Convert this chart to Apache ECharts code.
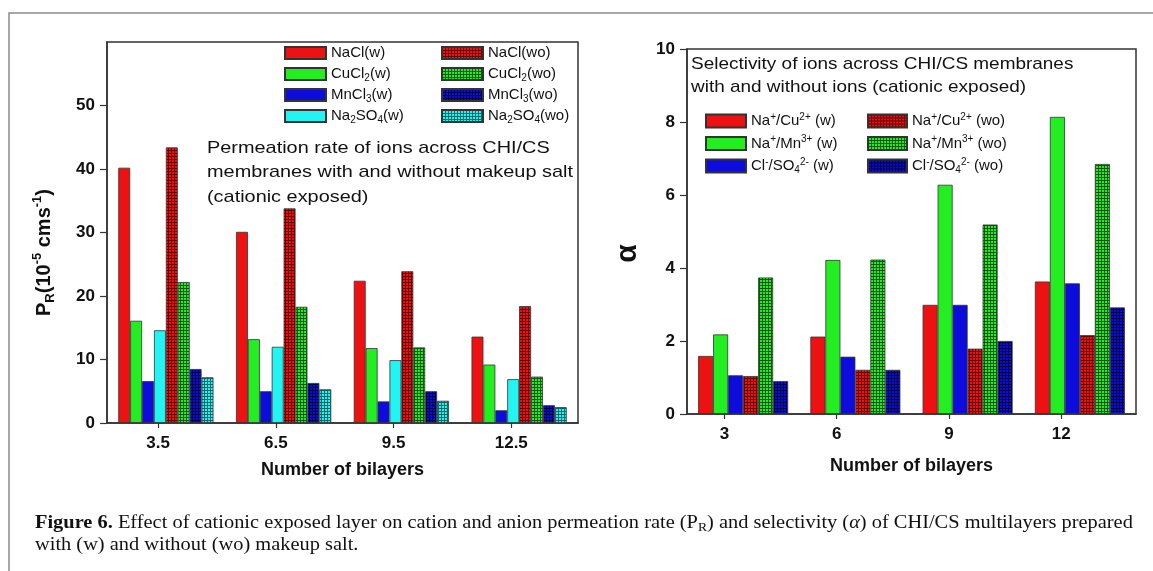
<!DOCTYPE html>
<html><head><meta charset="utf-8">
<script src="https://cdn.jsdelivr.net/npm/echarts@6/dist/echarts.min.js"></script>
<style>html,body{margin:0;padding:0;background:#fff}#c{width:1153px;height:571px}</style>
</head><body><div id="c"></div>
<script>
// ---------- data ----------
const leftCategories = ['3.5', '6.5', '9.5', '12.5'];
const leftTickValues = [3.5, 6.5, 9.5, 12.5];
const leftYTicks = [0, 10, 20, 30, 40, 50];
const naclW   = [40.2, 30.1, 22.4, 13.6];
const cucl2W  = [16.1, 13.2, 11.8, 9.2];
const mncl3W  = [6.6, 5.0, 3.4, 2.0];
const na2so4W = [14.6, 12.0, 9.9, 6.9];
const naclWo  = [43.4, 33.8, 23.9, 18.4];
const cucl2Wo = [22.2, 18.3, 11.9, 7.3];
const mncl3Wo = [8.5, 6.3, 5.0, 2.8];
const na2so4Wo = [7.2, 5.3, 3.5, 2.5];

const rightCategories = ['3', '6', '9', '12'];
const rightTickValues = [3, 6, 9, 12];
const rightYTicks = [0, 2, 4, 6, 8, 10];
const naCuW   = [1.59, 2.12, 2.99, 3.63];
const naMnW   = [2.18, 4.22, 6.28, 8.14];
const clSo4W  = [1.06, 1.57, 2.99, 3.58];
const naCuWo  = [1.04, 1.21, 1.79, 2.16];
const naMnWo  = [3.74, 4.23, 5.19, 6.85];
const clSo4Wo = [0.90, 1.21, 2.00, 2.92];

// ---------- styling ----------
const FONT = 'Liberation Sans';
const RED = '#ee1111', GREEN = '#22ee22', BLUE = '#0c0cdc', CYAN = '#22f4f4';
function hatch(base, line) {
  const c = document.createElement('canvas'); c.width = 3; c.height = 3;
  const g = c.getContext('2d');
  g.fillStyle = base; g.fillRect(0, 0, 3, 3);
  g.fillStyle = line; g.fillRect(0, 0, 3, 1); g.fillRect(0, 0, 1, 3);
  return { image: c, repeat: 'repeat' };
}
const fills = {
  red: [RED, hatch(RED, '#6a0000')],
  green: [GREEN, hatch(GREEN, '#0a5a0a')],
  blue: [BLUE, hatch(BLUE, '#000044')],
  cyan: [CYAN, hatch(CYAN, '#0a6a6a')]
};

const leftDefs = [
  ['NaCl(w)', naclW, 'red', 0, 'NaCl(w)'],
  ['CuCl2(w)', cucl2W, 'green', 0, 'CuCl{sub|2}(w)'],
  ['MnCl3(w)', mncl3W, 'blue', 0, 'MnCl{sub|3}(w)'],
  ['Na2SO4(w)', na2so4W, 'cyan', 0, 'Na{sub|2}SO{sub|4}(w)'],
  ['NaCl(wo)', naclWo, 'red', 1, 'NaCl(wo)'],
  ['CuCl2(wo)', cucl2Wo, 'green', 1, 'CuCl{sub|2}(wo)'],
  ['MnCl3(wo)', mncl3Wo, 'blue', 1, 'MnCl{sub|3}(wo)'],
  ['Na2SO4(wo)', na2so4Wo, 'cyan', 1, 'Na{sub|2}SO{sub|4}(wo)']
];
const rightDefs = [
  ['NaCu(w)', naCuW, 'red', 0, 'Na{sup|+}/Cu{sup|2+} (w)'],
  ['NaMn(w)', naMnW, 'green', 0, 'Na{sup|+}/Mn{sup|3+} (w)'],
  ['ClSO4(w)', clSo4W, 'blue', 0, 'Cl{sup|-}/SO{sub|4}{sup|2-} (w)'],
  ['NaCu(wo)', naCuWo, 'red', 1, 'Na{sup|+}/Cu{sup|2+} (wo)'],
  ['NaMn(wo)', naMnWo, 'green', 1, 'Na{sup|+}/Mn{sup|3+} (wo)'],
  ['ClSO4(wo)', clSo4Wo, 'blue', 1, 'Cl{sup|-}/SO{sub|4}{sup|2-} (wo)']
];
const labelMap = {};
[...leftDefs, ...rightDefs].forEach(d => labelMap[d[0]] = d[4]);

function mkSeries(defs, axisIdx, bw) {
  return defs.map(d => ({
    type: 'bar', name: d[0], data: d[1],
    xAxisIndex: axisIdx, yAxisIndex: axisIdx,
    barWidth: bw, barGap: '0%',
    itemStyle: { color: fills[d[2]][d[3]], borderColor: '#333', borderWidth: 0.8 },
    emphasis: { disabled: true }
  }));
}

const legendRich = {
  sub: { fontSize: 10, lineHeight: 10, verticalAlign: 'bottom', fontFamily: FONT, color: '#111' },
  sup: { fontSize: 10, lineHeight: 10, verticalAlign: 'top', fontFamily: FONT, color: '#111' }
};
function mkLegend(names, left, top, iw, ih, gap) {
  return {
    data: names, left: left, top: top, orient: 'vertical', icon: 'rect',
    itemWidth: iw, itemHeight: ih, itemGap: gap, selectedMode: false, padding: 0,
    formatter: n => labelMap[n],
    textStyle: { fontSize: 15, fontFamily: FONT, color: '#111', lineHeight: 18, rich: legendRich }
  };
}

const axisLineStyle = { color: '#333', width: 1.5 };
const tickFont = { fontSize: 17, fontWeight: 'bold', fontFamily: FONT, color: '#111' };
const nameFont = { fontSize: 18, fontWeight: 'bold', fontFamily: FONT, color: '#111' };

const option = {
  animation: false,
  grid: [
    { left: 107, top: 42, right: 575, bottom: 148, show: true, borderColor: '#333', borderWidth: 1.5, containLabel: false },
    { left: 687, top: 49, right: 17, bottom: 157, show: true, borderColor: '#333', borderWidth: 1.5, containLabel: false }
  ],
  legend: [
    mkLegend(leftDefs.slice(0, 4).map(d => d[0]), 284, 44, 41, 12, 3),
    mkLegend(leftDefs.slice(4).map(d => d[0]), 441, 44, 41, 12, 3),
    mkLegend(rightDefs.slice(0, 3).map(d => d[0]), 705, 112, 40, 13, 4.5),
    mkLegend(rightDefs.slice(3).map(d => d[0]), 867, 112, 39, 13, 4.5)
  ],
  xAxis: [
    { type: 'category', gridIndex: 0, position: 'bottom', data: leftCategories, axisLine: { lineStyle: axisLineStyle },
      axisTick: { show: false }, axisLabel: { show: false },
      name: 'Number of bilayers', nameLocation: 'middle', nameGap: 38, nameTextStyle: nameFont },
    { type: 'category', gridIndex: 1, position: 'bottom', data: rightCategories, axisLine: { lineStyle: axisLineStyle },
      axisTick: { show: false }, axisLabel: { show: false },
      name: 'Number of bilayers', nameLocation: 'middle', nameGap: 43, nameTextStyle: nameFont },
    { type: 'value', gridIndex: 0, position: 'bottom', min: 2.2, max: 14.2, axisLine: { show: false }, splitLine: { show: false },
      axisTick: { show: true, customValues: leftTickValues, length: 5, lineStyle: { color: '#333', width: 1.2 } },
      axisLabel: Object.assign({ customValues: leftTickValues, margin: 12 }, tickFont) },
    { type: 'value', gridIndex: 1, position: 'bottom', min: 2, max: 14, axisLine: { show: false }, splitLine: { show: false },
      axisTick: { show: true, customValues: rightTickValues, length: 5, lineStyle: { color: '#333', width: 1.2 } },
      axisLabel: Object.assign({ customValues: rightTickValues, margin: 12 }, tickFont) }
  ],
  yAxis: [
    { type: 'value', gridIndex: 0, min: 0, max: 60, interval: 10, splitLine: { show: false },
      axisLine: { show: true, lineStyle: axisLineStyle },
      axisTick: { show: true, customValues: leftYTicks, length: 7, lineStyle: { color: '#333', width: 1.2 } },
      axisLabel: Object.assign({ customValues: leftYTicks, margin: 12 }, tickFont),
      name: 'P{sub|R}(10{sup|-5} cms{sup|-1})', nameLocation: 'middle', nameGap: 50,
      nameTextStyle: { fontSize: 20, fontWeight: 'bold', fontFamily: FONT, color: '#111', padding: [0, 40, 0, 0], lineHeight: 26,
        rich: { sub: { fontSize: 13, fontWeight: 'bold', fontFamily: FONT, lineHeight: 13, verticalAlign: 'bottom', color: '#111' },
                sup: { fontSize: 13, fontWeight: 'bold', fontFamily: FONT, lineHeight: 13, verticalAlign: 'top', color: '#111' } } } },
    { type: 'value', gridIndex: 1, min: 0, max: 10, interval: 2, splitLine: { show: false },
      axisLine: { show: true, lineStyle: axisLineStyle },
      axisTick: { show: true, length: 7, lineStyle: { color: '#333', width: 1.2 } },
      axisLabel: Object.assign({ margin: 12 }, tickFont),
      name: 'α', nameLocation: 'middle', nameGap: 44,
      nameTextStyle: { fontSize: 30, fontWeight: 'bold', fontFamily: FONT, color: '#111', padding: [0, 44, 0, 0] } }
  ],
  series: [...mkSeries(leftDefs, 0, 11.9), ...mkSeries(rightDefs, 1, 15)],
  graphic: [
    { type: 'rect', shape: { x: 9, y: 13, width: 1300, height: 700 }, style: { fill: 'none', stroke: '#8a8a8a', lineWidth: 1.5 }, silent: true },
    { type: 'text', x: 207, y: 136, scaleX: 1.17, silent: true,
      style: { text: 'Permeation rate of ions across CHI/CS\nmembranes with and without makeup salt\n(cationic exposed)',
        fontSize: 17, fontFamily: FONT, fill: '#111', lineHeight: 24.5, verticalAlign: 'top', align: 'left' } },
    { type: 'text', x: 691, y: 52.5, scaleX: 1.115, silent: true,
      style: { text: 'Selectivity of ions across CHI/CS membranes\nwith and without ions (cationic exposed)',
        fontSize: 17, fontFamily: FONT, fill: '#111', lineHeight: 23, verticalAlign: 'top', align: 'left' } },
    { type: 'text', x: 35, y: 512, scaleX: 1.133, silent: true,
      style: { text: '{b|Figure 6.} Effect of cationic exposed layer on cation and anion permeation rate (P{s|R}) and selectivity ({i|α}) of CHI/CS multilayers prepared\nwith (w) and without (wo) makeup salt.',
        fontSize: 18, fontFamily: 'Liberation Serif', fill: '#111', lineHeight: 22, verticalAlign: 'top', align: 'left',
        rich: { b: { fontSize: 18, fontWeight: 'bold', fontFamily: 'Liberation Serif', fill: '#111', lineHeight: 22 },
                i: { fontSize: 18, fontStyle: 'italic', fontFamily: 'Liberation Serif', fill: '#111', lineHeight: 22 },
                s: { fontSize: 12, fontFamily: 'Liberation Serif', fill: '#111', lineHeight: 12, verticalAlign: 'bottom' } } } }
  ]
};
const chart = echarts.init(document.getElementById('c'), null, { renderer: 'canvas' });
chart.setOption(option);
</script>
</body></html>
